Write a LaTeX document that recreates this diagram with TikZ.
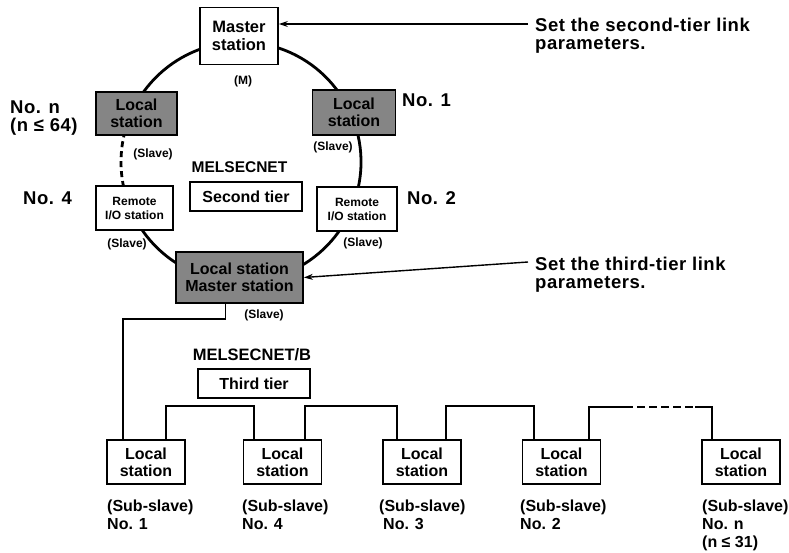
\documentclass[tikz,border=0pt]{standalone}
\usepackage{fontspec}
\setmainfont{Liberation Sans}
\newfontfamily\widefont[LetterSpace=3]{Liberation Sans}
\usetikzlibrary{arrows.meta}
\begin{document}
\begin{tikzpicture}[x=1pt,y=-1pt,
  box/.style={draw,line width=1.8pt,fill=white,align=center,inner sep=0pt,
    font=\bfseries\fontsize{16}{17}\selectfont},
  hbox/.style={box,fill=black!48},
  rbox/.style={box,font=\bfseries\fontsize{12}{14}\selectfont,minimum height=44pt},
  lbox/.style={box,minimum width=78pt,minimum height=44pt},
  small/.style={font=\bfseries\fontsize{12}{13}\selectfont,inner sep=0pt},
  lbl/.style={font=\widefont\bfseries\fontsize{18.5}{18}\selectfont,align=left,inner sep=0pt},
  sub/.style={font=\bfseries\fontsize{16}{18}\selectfont,align=left,inner sep=0pt,anchor=north west},
  net/.style={font=\bfseries\fontsize{15.5}{17}\selectfont,inner sep=0pt},
  wire/.style={line width=1.8pt},
  ring/.style={line width=2.8pt},
  arr/.style={line width=1.4pt,-{Stealth[length=9pt,width=6pt]}}
]
\useasboundingbox (0,0) rectangle (789,553);

% ring of the second tier
\coordinate (rc) at (241,162);
\draw[ring] (rc) ++(193:120) arc[start angle=193,end angle=528,radius=120];
\draw[ring,dash pattern=on 6pt off 4pt] (rc) ++(168:120) arc[start angle=168,end angle=193,radius=120];

% second tier stations
\node[box,minimum width=78pt,minimum height=57pt,font=\bfseries\fontsize{16.5}{18}\selectfont] (ms) at (239,36) {Master\\station};
\node[small] (mlab) at (243,81) {(M)};
\node[hbox,minimum width=81pt,minimum height=43pt] (ln) at (136.5,113.5) {Local\\station};
\node[small] (lnlab) at (153,154) {(Slave)};
\node[hbox,minimum width=83pt,minimum height=45pt] (l1) at (354,112.5) {Local\\station};
\node[small] (l1lab) at (333,147) {(Slave)};
\node[rbox,minimum width=77pt] (r4) at (134.5,208) {Remote\\I/O station};
\node[small] (r4lab) at (127,244) {(Slave)};
\node[rbox,minimum width=80pt] (r2) at (357,209) {Remote\\I/O station};
\node[small] (r2lab) at (363,243) {(Slave)};
\node[hbox,minimum width=127pt,minimum height=51pt] (lm) at (239.5,277.5) {Local station\\Master station};
\node[small] (lmlab) at (264,315) {(Slave)};

\node[net] (mn) at (239.5,167) {MELSECNET};
\node[box,line width=1.4pt,minimum width=112pt,minimum height=29pt] (st) at (246,196.5) {Second tier};

% numbering of the second tier
\node[lbl,anchor=north west] (nn) at (10,101) {No. n\\(n ≤ 64)};
\node[lbl,anchor=west] (n4) at (23,198) {No. 4};
\node[lbl,anchor=west] (n1) at (402,100) {No. 1};
\node[lbl,anchor=west] (n2) at (407,198) {No. 2};

% parameter notes
\node[lbl,anchor=north west] (p2) at (535,18) {Set the second-tier link\\parameters.};
\node[lbl,anchor=north west] (p3) at (535,257) {Set the third-tier link\\parameters.};
\coordinate (a1) at (528,24);
\coordinate (a2) at (528,262);
\draw[arr] (a1) -- (ms.east |- a1);
\draw[arr] (a2) -- (lm.east);

% third tier
\node[net,font=\bfseries\fontsize{16.5}{18}\selectfont] (mnb) at (252,355) {MELSECNET/B};
\node[box,line width=1.4pt,minimum width=112pt,minimum height=29pt] (tt) at (254,383.5) {Third tier};

\node[lbox] (s1) at (146,462) {Local\\station};
\node[lbox] (s4) at (282.5,462) {Local\\station};
\node[lbox] (s3) at (422,462) {Local\\station};
\node[lbox] (s2) at (561.5,462) {Local\\station};
\node[lbox] (sn) at (741,462) {Local\\station};

\node[sub] (t1) at (107,500) {(Sub-slave)\\No. 1};
\node[sub] (t4) at (242,500) {(Sub-slave)\\No. 4};
\node[sub] (t3) at (379,500) {(Sub-slave)\\\hspace*{4pt}No. 3};
\node[sub] (t2) at (520,500) {(Sub-slave)\\No. 2};
\node[sub] (tn) at (702,500) {(Sub-slave)\\No. n\\(n ≤ 31)};

% third tier wiring
\draw[wire] ([xshift=-14pt]lm.south) -- ++(0,15) -| ([xshift=-23pt]s1.north);
\draw[wire] ([xshift=20pt]s1.north) -- ++(0,-33) -| ([xshift=-28.5pt]s4.north);
\draw[wire] ([xshift=22.5pt]s4.north) -- ++(0,-33) -| ([xshift=-25pt]s3.north);
\draw[wire] ([xshift=24pt]s3.north) -- ++(0,-33) -| ([xshift=-27.5pt]s2.north);
\coordinate (d1) at (625,407);
\coordinate (d2) at (695,407);
\draw[wire] ([xshift=27.5pt]s2.north) |- (d1);
\draw[wire,dash pattern=on 8pt off 4pt] (d1) -- (d2);
\draw[wire] (d2) -| ([xshift=-29pt]sn.north);
\end{tikzpicture}
\end{document}
